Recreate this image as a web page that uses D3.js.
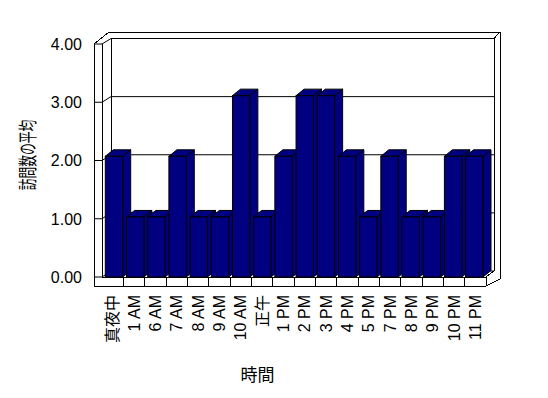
<!DOCTYPE html>
<html><head><meta charset="utf-8">
<script src="https://cdn.jsdelivr.net/npm/d3@7"></script>
<style>html,body{margin:0;padding:0;background:#fff}</style>
</head><body>
<script>
const categories = ["真夜中","1 AM","6 AM","7 AM","8 AM","9 AM","10 AM","正午","1 PM","2 PM","3 PM","4 PM","5 PM","7 PM","8 PM","9 PM","10 PM","11 PM"];
const values = [2,1,1,2,1,1,3,1,2,3,3,2,1,2,1,1,2,2];
const yTicks = [0,1,2,3,4];
const yTickLabels = ["0.00","1.00","2.00","3.00","4.00"];
const yTitle = "訪問数の平均";
const xTitle = "時間";

const W = 548, H = 398;
const svg = d3.select("body").append("svg").attr("width", W).attr("height", H)
  .style("display","block");
svg.append("rect").attr("width",W).attr("height",H).attr("fill","#fff");

const font = "'Liberation Sans', Arial, 'Noto Sans CJK JP', sans-serif";
const navy = "#000080";

// geometry
const wallOuterX = 94, frontX0 = 102, frontX1 = 486, backX0 = 111, backX1 = 494;
const outerBackX = 500, outerTopY = 32;
const floorTopFront = 277, floorBottom = 286, floorBack = 271;

const yWall = d3.scaleLinear().domain([0,4]).range([277,44]);
const yBack = d3.scaleLinear().domain([0,4]).range([271,38.5]);
const yBar = d3.scaleLinear().domain([0,4]).range([277.6,35]);
const xFloor = d3.scaleBand().domain(categories).range([frontX0, frontX1]);
const xBar = d3.scaleBand().domain(categories).range([103.4,484.9]).paddingInner(0.179).paddingOuter(0.09);
const bdx = 8, bdy = -6.5;

const line = d3.line();

svg.append("path").attr("d", line([[wallOuterX,44],[109,outerTopY],[outerBackX,outerTopY],[outerBackX,279],[frontX1,floorBottom],[wallOuterX,floorBottom]])+"Z")
  .attr("fill","#fff");

const g = svg.append("g").attr("fill","none").attr("stroke","#000").attr("stroke-width",1)
  .attr("shape-rendering","crispEdges");

g.append("path").attr("d", line([[wallOuterX,floorBottom],[wallOuterX,44],[109,outerTopY],[outerBackX,outerTopY],[outerBackX,279],[frontX1,floorBottom],[wallOuterX,floorBottom]]));
g.append("path").attr("d", line([[frontX0,floorTopFront],[frontX0,44]]));
g.append("path").attr("d", line([[backX0,yBack(4)],[backX0,floorBack]]));
g.append("path").attr("d", line([[backX1,yBack(4)],[backX1,floorBack]]));
g.append("path").attr("d", line([[backX1,yBack(4)],[outerBackX,outerTopY]]));
g.append("path").attr("d", line([[frontX1,floorTopFront],[backX1,floorBack]]));
g.append("path").attr("d", line([[frontX1,floorTopFront],[frontX1,floorBottom]]));

// gridlines
g.selectAll("path.grid").data(yTicks).join("path").attr("class","grid")
  .attr("d", d => line([[wallOuterX,yWall(d)],[frontX0,yWall(d)],[backX0,yBack(d)],[backX1,yBack(d)]]))
  .attr("shape-rendering","auto");

// floor front edge & category dividers
g.append("path").attr("d", line([[frontX0,floorTopFront],[frontX1,floorTopFront]]));
g.selectAll("path.ctick").data(categories.slice(1)).join("path").attr("class","ctick")
  .attr("d", d => line([[xFloor(d),floorTopFront],[xFloor(d),floorBottom]]));

// bars
const bars = svg.append("g").attr("stroke","#000").attr("stroke-width",1).attr("fill",navy)
  .attr("stroke-linejoin","miter");
categories.forEach((c,i) => {
  const x = xBar(c), w = xBar.bandwidth(), yt = yBar(values[i]), yb = floorTopFront;
  const bg = bars.append("g");
  bg.append("path").attr("d", line([[x+w,yt],[x+w+bdx,yt+bdy],[x+w+bdx,yb+bdy],[x+w,yb]])+"Z");
  bg.append("path").attr("d", line([[x,yt],[x+bdx,yt+bdy],[x+w+bdx,yt+bdy],[x+w,yt]])+"Z");
  bg.append("rect").attr("x",x).attr("y",yt).attr("width",w).attr("height",yb-yt);
});

// y tick labels
svg.append("g").selectAll("text").data(yTicks).join("text")
  .attr("x",82).attr("y",d => yWall(d)).attr("dy","0.36em")
  .attr("text-anchor","end").attr("font-family",font).attr("font-size",16)
  .text((d,i) => yTickLabels[i]);

// category labels
svg.append("g").selectAll("text").data(categories).join("text")
  .attr("transform", d => `translate(${xFloor(d)+xFloor.bandwidth()/2},295) rotate(-90)`)
  .attr("text-anchor","end").attr("dy","0.36em").attr("fill","#000")
  .attr("font-family",font).attr("font-size",16).text(d => d);

// titles
svg.append("text").attr("transform","translate(28,155) rotate(-90) scale(0.62,1)")
  .attr("text-anchor","middle").attr("dy","0.36em")
  .attr("font-family",font).attr("font-size",19).text(yTitle);
svg.append("text").attr("x",257.5).attr("y",375).attr("dy","0.36em")
  .attr("text-anchor","middle").attr("font-family",font).attr("font-size",17).text(xTitle);
</script>
</body></html>
